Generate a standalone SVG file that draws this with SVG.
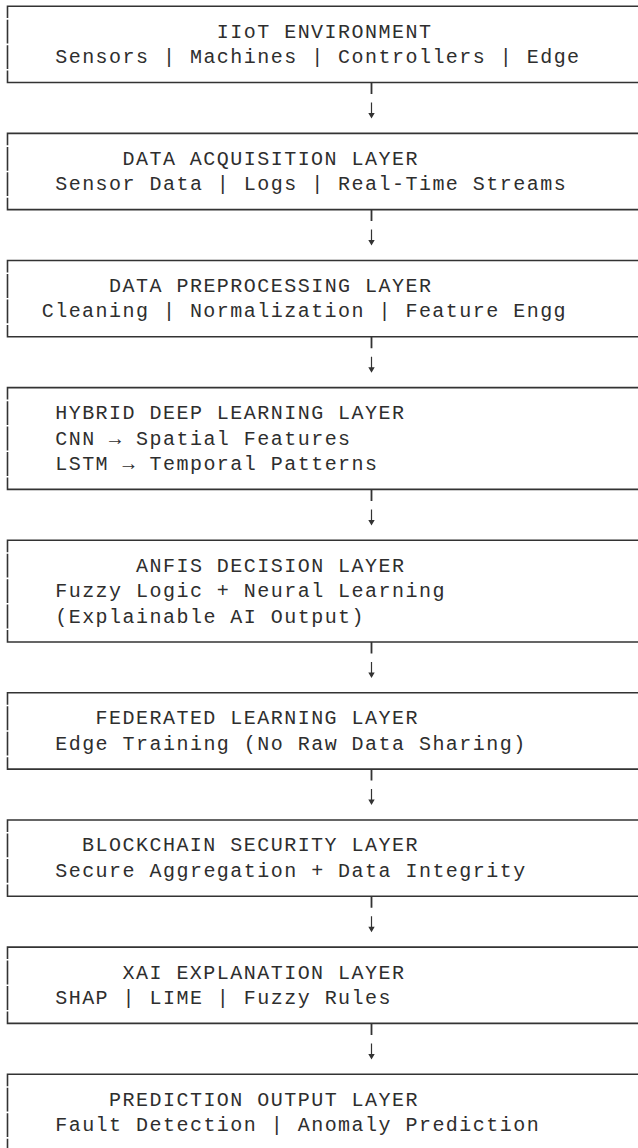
<svg xmlns="http://www.w3.org/2000/svg" width="638" height="1148" viewBox="0 0 638 1148">
<style>
.bg{fill:#ffffff}
.box{fill:none;stroke:#333333;stroke-width:1.6}
.t{font-family:"Liberation Mono","Courier New",monospace;font-size:20px;letter-spacing:1.47px;fill:#2e2e2e}
.stem{fill:none;stroke:#333333;stroke-width:1.8}
.shaft{fill:none;stroke:#333333;stroke-width:1.2}
.head{fill:#333333}
</style>
<rect class="bg" x="0" y="0" width="638" height="1148"/>
<g id="connectors">
<path class="stem" d="M371.5 82.5V94 M371.5 209.6V221.1 M371.5 336.8V348.3 M371.5 489.4V500.9 M371.5 642V653.5 M371.5 769.1V780.6 M371.5 896.3V907.8 M371.5 1023.4V1034.9"/>
<path class="shaft" d="M371.5 102.5V114 M371.5 229.6V241.1 M371.5 356.8V368.3 M371.5 509.4V520.9 M371.5 662V673.5 M371.5 789.1V800.6 M371.5 916.3V927.8 M371.5 1043.4V1054.9"/>
<path class="head" d="M368.3 113L374.7 113L371.5 118.5Z M368.3 240.1L374.7 240.1L371.5 245.6Z M368.3 367.3L374.7 367.3L371.5 372.8Z M368.3 519.9L374.7 519.9L371.5 525.4Z M368.3 672.5L374.7 672.5L371.5 678Z M368.3 799.6L374.7 799.6L371.5 805.1Z M368.3 926.8L374.7 926.8L371.5 932.3Z M368.3 1053.9L374.7 1053.9L371.5 1059.4Z"/>
</g>
<g id="iiot">
<path class="box" d="M7.5 6.2V18.1 M7.5 19.7V43.6 M7.5 45.2V69 M7.5 70.6V82.5 M6.7 6.2H640 M6.7 82.5H640"/>
<text class="t" x="216.8" y="37.6">IIoT ENVIRONMENT</text>
<text class="t" x="55.2" y="63.1">Sensors | Machines | Controllers | Edge</text>
</g>
<g id="acquisition">
<path class="box" d="M7.5 133.35V145.3 M7.5 146.9V170.7 M7.5 172.3V196.1 M7.5 197.7V209.6 M6.7 133.35H640 M6.7 209.6H640"/>
<text class="t" x="122.5" y="164.8">DATA ACQUISITION LAYER</text>
<text class="t" x="55.2" y="190.2">Sensor Data | Logs | Real-Time Streams</text>
</g>
<g id="preprocessing">
<path class="box" d="M7.5 260.5V272.4 M7.5 274V297.9 M7.5 299.5V323.3 M7.5 324.9V336.8 M6.7 260.5H640 M6.7 336.8H640"/>
<text class="t" x="109.1" y="291.9">DATA PREPROCESSING LAYER</text>
<text class="t" x="41.7" y="317.4">Cleaning | Normalization | Feature Engg</text>
</g>
<g id="hybrid">
<path class="box" d="M7.5 387.65V399.6 M7.5 401.2V425 M7.5 426.6V450.4 M7.5 452V475.9 M7.5 477.5V489.4 M6.7 387.65H640 M6.7 489.4H640"/>
<text class="t" x="55.2" y="419.1">HYBRID DEEP LEARNING LAYER</text>
<text class="t" x="55.2" y="444.5">CNN → Spatial Features</text>
<text class="t" x="55.2" y="469.9">LSTM → Temporal Patterns</text>
</g>
<g id="anfis">
<path class="box" d="M7.5 540.2V552.2 M7.5 553.8V577.6 M7.5 579.2V603 M7.5 604.6V628.5 M7.5 630.1V642 M6.7 540.2H640 M6.7 642H640"/>
<text class="t" x="136" y="571.7">ANFIS DECISION LAYER</text>
<text class="t" x="55.2" y="597.1">Fuzzy Logic + Neural Learning</text>
<text class="t" x="55.2" y="622.5">(Explainable AI Output)</text>
</g>
<g id="federated">
<path class="box" d="M7.5 692.8V704.7 M7.5 706.3V730.2 M7.5 731.8V755.6 M7.5 757.2V769.1 M6.7 692.8H640 M6.7 769.1H640"/>
<text class="t" x="95.6" y="724.2">FEDERATED LEARNING LAYER</text>
<text class="t" x="55.2" y="749.7">Edge Training (No Raw Data Sharing)</text>
</g>
<g id="blockchain">
<path class="box" d="M7.5 820V831.9 M7.5 833.5V857.3 M7.5 858.9V882.8 M7.5 884.4V896.3 M6.7 820H640 M6.7 896.3H640"/>
<text class="t" x="82.1" y="851.4">BLOCKCHAIN SECURITY LAYER</text>
<text class="t" x="55.2" y="876.8">Secure Aggregation + Data Integrity</text>
</g>
<g id="xai">
<path class="box" d="M7.5 947.1V959 M7.5 960.6V984.5 M7.5 986.1V1009.9 M7.5 1011.5V1023.4 M6.7 947.1H640 M6.7 1023.4H640"/>
<text class="t" x="122.5" y="978.5">XAI EXPLANATION LAYER</text>
<text class="t" x="55.2" y="1004">SHAP | LIME | Fuzzy Rules</text>
</g>
<g id="prediction">
<path class="box" d="M7.5 1074.3V1086.2 M7.5 1087.8V1111.6 M7.5 1113.2V1137 M7.5 1138.7V1150.6 M6.7 1074.3H640 M6.7 1150.6H640"/>
<text class="t" x="109.1" y="1105.7">PREDICTION OUTPUT LAYER</text>
<text class="t" x="55.2" y="1131.1">Fault Detection | Anomaly Prediction</text>
</g>
</svg>
